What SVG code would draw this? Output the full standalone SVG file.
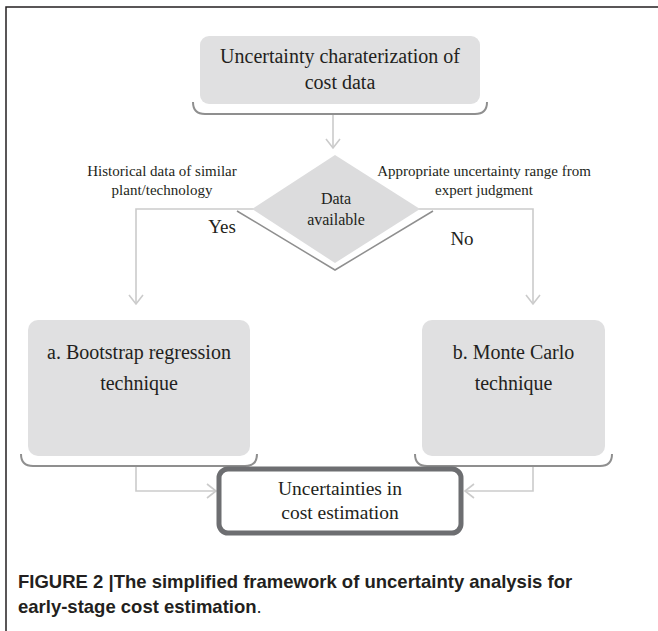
<svg xmlns="http://www.w3.org/2000/svg" width="658" height="631" viewBox="0 0 658 631">
<style>
.box{fill:#e0e0e1;}
.shadow{fill:none;stroke:#8f8f8f;stroke-width:2;}
.t{font-family:"Liberation Serif","Times New Roman",serif;fill:#231f20;text-anchor:middle;}
.big{font-size:20px;}
.small{font-size:15px;}
.conn{fill:none;stroke:#cbcbcb;stroke-width:1.6;}
.cap{font-family:"Liberation Sans",Arial,sans-serif;font-size:18.5px;fill:#231f20;}
</style>
<defs>
<marker id="arr" markerUnits="userSpaceOnUse" markerWidth="20" markerHeight="20" refX="10" refY="8" orient="auto">
<path d="M1,1 L10,8 L1,15" fill="none" stroke="#cbcbcb" stroke-width="1.6"/>
</marker>
</defs>
<rect width="658" height="631" fill="#fff"/>
<path d="M6,631 V7 H658" fill="none" stroke="#231f20" stroke-width="1.5"/>

<g id="connectors">
<path class="conn" d="M333,115 V148" marker-end="url(#arr)"/>
<path class="conn" d="M262,209 H136 V304" marker-end="url(#arr)"/>
<path class="conn" d="M410,209 H533 V304" marker-end="url(#arr)"/>
<path class="conn" d="M136,466 V491 H216" marker-end="url(#arr)"/>
<path class="conn" d="M533,466 V491 H465" marker-end="url(#arr)"/>
</g>

<g id="n-top">
<path class="shadow" d="M193,102 Q193,114 205,114 H475 Q487,114 487,102"/>
<rect class="box" x="200" y="36" width="280" height="68" rx="9"/>
<text class="t big" x="340" y="63">Uncertainty charaterization of</text>
<text class="t big" x="340" y="89">cost data</text>
</g>

<g id="n-diamond">
<polyline points="237,211 335,270 433,211" fill="none" stroke="#8f8f8f" stroke-width="1.5"/>
<polygon points="335,155 420,209 335,263 252,209" fill="#dcdcdd"/>
<text class="t" style="font-size:16px" x="336" y="204">Data</text>
<text class="t" style="font-size:16px" x="336" y="225">available</text>
</g>

<g id="labels">
<text class="t small" x="162" y="176">Historical data of similar</text>
<text class="t small" x="162" y="195">plant/technology</text>
<text class="t small" x="484" y="176">Appropriate uncertainty range from</text>
<text class="t small" x="484" y="195">expert judgment</text>
<text class="t" style="font-size:19px" x="222" y="233">Yes</text>
<text class="t" style="font-size:19px" x="462" y="245">No</text>
</g>

<g id="n-a">
<path class="shadow" d="M21,454 Q21,466 33,466 H245 Q257,466 257,454"/>
<rect class="box" x="28" y="320" width="222" height="136" rx="10"/>
<text class="t big" x="139" y="359">a. Bootstrap regression</text>
<text class="t big" x="139" y="390">technique</text>
</g>

<g id="n-b">
<path class="shadow" d="M415,454 Q415,466 427,466 H600 Q612,466 612,454"/>
<rect class="box" x="422" y="320" width="183" height="136" rx="10"/>
<text class="t big" x="513.5" y="359">b. Monte Carlo</text>
<text class="t big" x="513.5" y="390">technique</text>
</g>

<g id="n-out">
<rect x="219" y="469" width="242" height="64" rx="9" fill="#fff" stroke="#6d6e71" stroke-width="5"/>
<text class="t" style="font-size:19.5px" x="340" y="495">Uncertainties in</text>
<text class="t" style="font-size:19.5px" x="340" y="519">cost estimation</text>
</g>

<g id="caption">
<text class="cap" x="18" y="588" font-weight="bold">FIGURE 2 |The simplified framework of uncertainty analysis for</text>
<text class="cap" x="18" y="613"><tspan font-weight="bold">early-stage cost estimation</tspan>.</text>
</g>
</svg>
